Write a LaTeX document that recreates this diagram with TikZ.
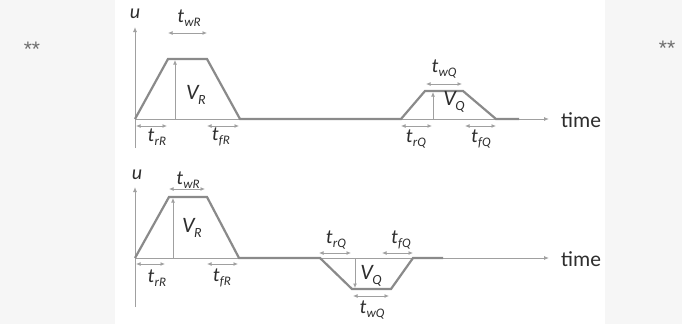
\documentclass[tikz,border=0pt]{standalone}
\usepackage{fontspec}
\setmainfont{Carlito}
\newfontfamily\starfont{Liberation Sans}
\usetikzlibrary{arrows.meta}
\definecolor{curvec}{HTML}{8A8A8A}
\definecolor{thinc}{HTML}{A0A0A0}
\definecolor{txtc}{HTML}{2E2E2E}
\definecolor{bgc}{HTML}{F6F6F6}
\newcommand{\tlab}[1]{{\fontsize{20}{20}\selectfont\itshape t\kern0.3pt\raisebox{-0.45ex}{\fontsize{13}{13}\selectfont #1}}}
\newcommand{\vlab}[1]{{\fontsize{22}{22}\selectfont\itshape V\kern-0.5pt\raisebox{-0.5ex}{\fontsize{14}{14}\selectfont #1}}}
\tikzset{
  curve/.style={draw=curvec,line width=2.2pt,line join=miter},
  thinline/.style={draw=thinc,line width=0.9pt},
  axisarrow/.style={thinline,-{Latex[length=5pt,width=4pt]}},
  dimarrow/.style={thinline,{Latex[length=4.5pt,width=4pt]}-{Latex[length=4.5pt,width=4pt]}},
  uparrow/.style={thinline,-{Latex[length=4.5pt,width=4pt]}},
  lab/.style={text=txtc,inner sep=0pt},
  star/.style={text=txtc!70,inner sep=0pt,anchor=base,font=\starfont\fontsize{21}{21}\selectfont},
}
\begin{document}
\begin{tikzpicture}[x=1pt,y=-1pt]
\useasboundingbox (0,0) rectangle (682,324);
\fill[bgc] (0,0) rectangle (682,324);
\fill[white] (115,0) rectangle (605,324);
\node[star] (s1) at (32,56) {**};
\node[star] (s2) at (667,55) {**};
% ---------- top panel ----------
\coordinate (yb1) at (135,148);
\coordinate (yt1) at (135,27);
\coordinate (O1) at (135,119);
\coordinate (A1) at (168,59);
\coordinate (B1) at (207,59);
\coordinate (C1) at (240,119);
\coordinate (E1) at (401,119);
\coordinate (F1) at (425,91);
\coordinate (G1) at (463,91);
\coordinate (H1) at (496,119);
\coordinate (I1) at (519,119);
\coordinate (X1) at (549,119);
\draw[axisarrow] (yb1) -- (yt1);
\draw[axisarrow] (O1) -- (X1);
\draw[curve] (O1) -- (A1) -- (B1) -- (C1) -- (E1) -- (F1) -- (G1) -- (H1) -- (I1);
\coordinate (vr1b) at (175,119);
\coordinate (vr1t) at (175,60);
\draw[uparrow] (vr1b) -- (vr1t);
\coordinate (vq1b) at (433,119);
\coordinate (vq1t) at (433,92);
\draw[uparrow] (vq1b) -- (vq1t);
\coordinate (wr1a) at (168,33); \coordinate (wr1b) at (207,33);
\draw[dimarrow] (wr1a) -- (wr1b);
\coordinate (rr1a) at (136,126); \coordinate (rr1b) at (167,126);
\draw[dimarrow] (rr1a) -- (rr1b);
\coordinate (fr1a) at (207,126); \coordinate (fr1b) at (239,126);
\draw[dimarrow] (fr1a) -- (fr1b);
\coordinate (wq1a) at (426,84); \coordinate (wq1b) at (462,84);
\draw[dimarrow] (wq1a) -- (wq1b);
\coordinate (rq1a) at (401,126); \coordinate (rq1b) at (432,126);
\draw[dimarrow] (rq1a) -- (rq1b);
\coordinate (fq1a) at (465,126); \coordinate (fq1b) at (496,126);
\draw[dimarrow] (fq1a) -- (fq1b);
\node[lab,font=\fontsize{20}{20}\selectfont\itshape] (u1) at (135,14) {u};
\node[lab] (twr1) at (189,18) {\tlab{wR}};
\node[lab] (vr1) at (196,95) {\vlab{R}};
\node[lab] (trr1) at (157,137) {\tlab{rR}};
\node[lab] (tfr1) at (221,137) {\tlab{fR}};
\node[lab] (twq1) at (444,69) {\tlab{wQ}};
\node[lab] (vq1) at (454,102) {\vlab{Q}};
\node[lab] (trq1) at (416,139) {\tlab{rQ}};
\node[lab] (tfq1) at (481,139) {\tlab{fQ}};
\node[lab,anchor=west,font=\fontsize{21.5}{21.5}\selectfont] (time1) at (561,120) {time};
% ---------- bottom panel ----------
\coordinate (yb2) at (135,307);
\coordinate (yt2) at (135,187);
\coordinate (O2) at (135,258);
\coordinate (A2) at (169,197);
\coordinate (B2) at (207,197);
\coordinate (C2) at (239,258);
\coordinate (E2) at (320,258);
\coordinate (F2) at (352,289);
\coordinate (G2) at (391,289);
\coordinate (H2) at (413,258);
\coordinate (I2) at (443,258);
\coordinate (X2) at (549,258);
\draw[axisarrow] (yb2) -- (yt2);
\draw[axisarrow] (O2) -- (X2);
\draw[curve] (O2) -- (A2) -- (B2) -- (C2) -- (E2) -- (F2) -- (G2) -- (H2) -- (I2);
\coordinate (vr2b) at (173,258);
\coordinate (vr2t) at (173,198);
\draw[uparrow] (vr2b) -- (vr2t);
\coordinate (vq2t) at (355,259);
\coordinate (vq2b) at (355,288);
\draw[uparrow] (vq2t) -- (vq2b);
\coordinate (wr2a) at (169,189); \coordinate (wr2b) at (205,189);
\draw[dimarrow] (wr2a) -- (wr2b);
\coordinate (rr2a) at (136,264); \coordinate (rr2b) at (165,264);
\draw[dimarrow] (rr2a) -- (rr2b);
\coordinate (fr2a) at (207,264); \coordinate (fr2b) at (238,264);
\draw[dimarrow] (fr2a) -- (fr2b);
\coordinate (rq2a) at (319,253); \coordinate (rq2b) at (351,253);
\draw[dimarrow] (rq2a) -- (rq2b);
\coordinate (fq2a) at (382,253); \coordinate (fq2b) at (413,253);
\draw[dimarrow] (fq2a) -- (fq2b);
\coordinate (wq2a) at (353,296); \coordinate (wq2b) at (389,296);
\draw[dimarrow] (wq2a) -- (wq2b);
\node[lab,font=\fontsize{20}{20}\selectfont\itshape] (u2) at (137,175) {u};
\node[lab] (twr2) at (188,180) {\tlab{wR}};
\node[lab] (vr2) at (192,228) {\vlab{R}};
\node[lab] (trr2) at (157,278) {\tlab{rR}};
\node[lab] (tfr2) at (222,278) {\tlab{fR}};
\node[lab] (trq2) at (336,240) {\tlab{rQ}};
\node[lab] (tfq2) at (401,240) {\tlab{fQ}};
\node[lab] (vq2) at (371,276) {\vlab{Q}};
\node[lab] (twq2) at (372,310) {\tlab{wQ}};
\node[lab,anchor=west,font=\fontsize{21.5}{21.5}\selectfont] (time2) at (561,259) {time};
\end{tikzpicture}
\end{document}
